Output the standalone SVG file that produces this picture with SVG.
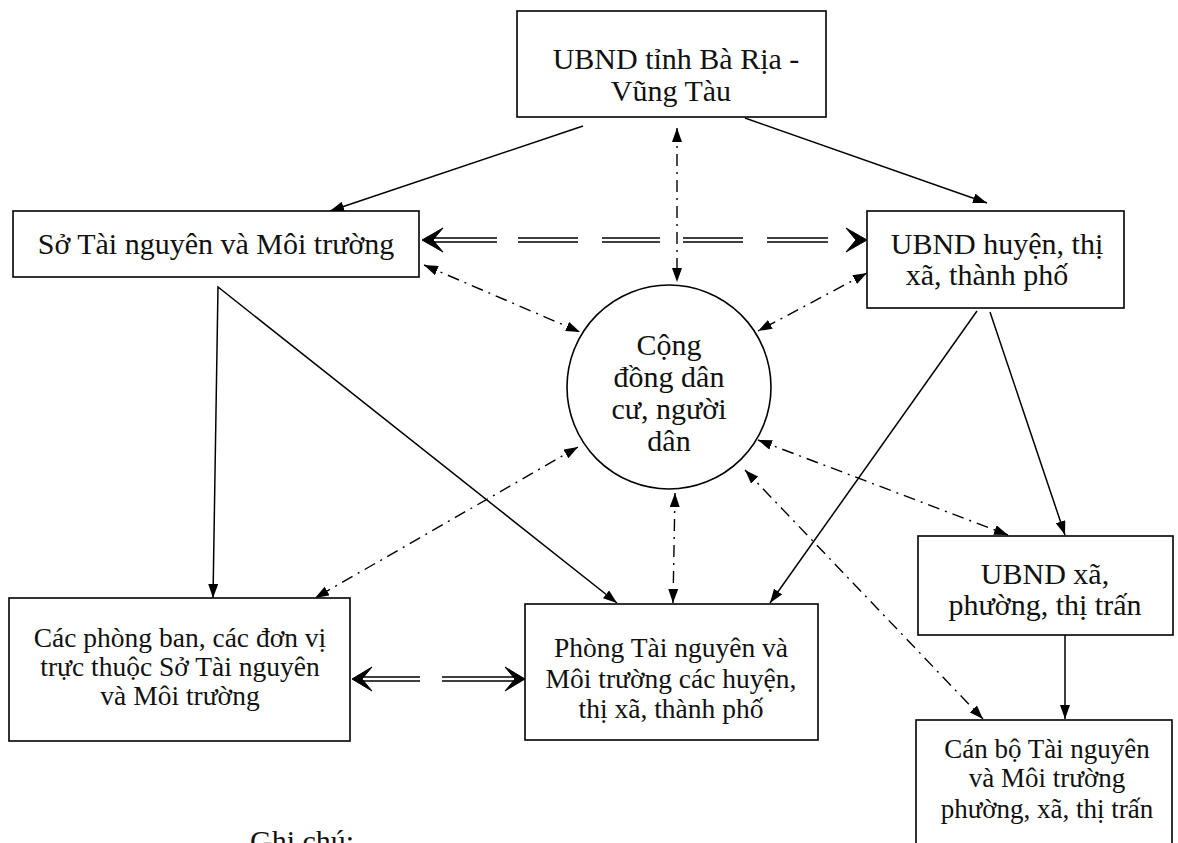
<svg xmlns="http://www.w3.org/2000/svg" width="1178" height="843" viewBox="0 0 1178 843">
<style>
.box{fill:#fff;stroke:#000;stroke-width:1.6}
.t{font-family:"Liberation Serif","Times New Roman",serif;font-size:30px;fill:#111;text-anchor:middle}
.s{fill:none;stroke:#000;stroke-width:1.5}
.dd{fill:none;stroke:#000;stroke-width:1.4;stroke-dasharray:12 6 2 6}
.dl{fill:none;stroke:#000;stroke-width:1.6}
.hd{fill:#000;stroke:#000;stroke-width:1;stroke-linejoin:round}
</style>
<defs>
<marker id="ah" viewBox="0 0 14 10" refX="14" refY="5" markerWidth="14" markerHeight="10" markerUnits="userSpaceOnUse" orient="auto-start-reverse">
<path d="M0,0 L14,5 L0,10 z" fill="#000"/>
</marker>
</defs>
<rect width="1178" height="843" fill="#fff"/>

<g id="connectors">
<path class="s" d="M583,126 L330,211" marker-end="url(#ah)"/>
<path class="s" d="M745,118 L987,203" marker-end="url(#ah)"/>
<path class="dd" d="M677,128 L677,282" marker-start="url(#ah)" marker-end="url(#ah)"/>
<path class="dd" d="M424,265 L580,332" marker-start="url(#ah)" marker-end="url(#ah)"/>
<path class="dd" d="M867,273 L758,331" marker-start="url(#ah)" marker-end="url(#ah)"/>
<path class="s" d="M213,598 L218,287 L617,603" marker-start="url(#ah)" marker-end="url(#ah)"/>
<path class="dd" d="M578,447 L315,598" marker-start="url(#ah)" marker-end="url(#ah)"/>
<path class="dd" d="M675,493 L673,603" marker-start="url(#ah)" marker-end="url(#ah)"/>
<path class="s" d="M977,311 L770,603" marker-end="url(#ah)"/>
<path class="s" d="M990,312 L1065,535" marker-end="url(#ah)"/>
<path class="dd" d="M758,440 L1008,535" marker-start="url(#ah)" marker-end="url(#ah)"/>
<path class="dd" d="M745,470 L983,719" marker-start="url(#ah)" marker-end="url(#ah)"/>
<path class="s" d="M1065,635 L1065,719" marker-end="url(#ah)"/>
<!-- double-line dashed arrow So <-> UBND huyen -->
<path class="dl" d="M432,238 H497 M432,242 H497 M518,238 H578 M518,242 H578 M602,238 H660 M602,242 H660 M683,238 H743 M683,242 H743 M767,238 H828 M767,242 H828"/>
<path class="hd" d="M422,240 L443,228 L433,240 L443,252 Z"/>
<path class="hd" d="M867,240 L846,228 L856,240 L846,252 Z"/>
<!-- double-line arrow Cac phong ban <-> Phong TN -->
<path class="dl" d="M361,677 H420 M361,681 H420 M442,677 H516 M442,681 H516"/>
<path class="hd" d="M352,679 L372,667 L362,679 L372,691 Z"/>
<path class="hd" d="M525,679 L505,667 L515,679 L505,691 Z"/>
</g>

<g id="ubnd-tinh">
<rect class="box" x="517" y="11" width="309" height="106"/>
<text class="t" x="676" y="69">UBND tỉnh Bà Rịa -</text>
<text class="t" x="671" y="101">Vũng Tàu</text>
</g>

<g id="so-tnmt">
<rect class="box" x="13" y="211" width="406" height="66"/>
<text class="t" x="216" y="254">Sở Tài nguyên và Môi trường</text>
</g>

<g id="ubnd-huyen">
<rect class="box" x="867" y="211" width="257" height="97"/>
<text class="t" x="997" y="254">UBND huyện, thị</text>
<text class="t" x="987" y="285">xã, thành phố</text>
</g>

<g id="cong-dong">
<circle class="box" cx="669" cy="387" r="102"/>
<text class="t" x="669" y="355">Cộng</text>
<text class="t" x="669" y="387">đồng dân</text>
<text class="t" x="669" y="419">cư, người</text>
<text class="t" x="669" y="451">dân</text>
</g>

<g id="cac-phong-ban">
<rect class="box" x="9" y="598" width="341" height="143"/>
<text class="t" style="font-size:27.5px" x="180" y="647">Các phòng ban, các đơn vị</text>
<text class="t" style="font-size:27.5px" x="180" y="676">trực thuộc Sở Tài nguyên</text>
<text class="t" style="font-size:27.5px" x="180" y="705">và Môi trường</text>
</g>

<g id="phong-tnmt">
<rect class="box" x="525" y="604" width="293" height="136"/>
<text class="t" style="font-size:27.5px" x="671" y="657">Phòng Tài nguyên và</text>
<text class="t" style="font-size:27.5px" x="671" y="688">Môi trường các huyện,</text>
<text class="t" style="font-size:27.5px" x="671" y="718">thị xã, thành phố</text>
</g>

<g id="ubnd-xa">
<rect class="box" x="918" y="536" width="255" height="99"/>
<text class="t" x="1045" y="584">UBND xã,</text>
<text class="t" x="1045" y="615">phường, thị trấn</text>
</g>

<g id="can-bo">
<rect class="box" x="916" y="720" width="256" height="140"/>
<text class="t" style="font-size:27px" x="1047" y="758">Cán bộ Tài nguyên</text>
<text class="t" style="font-size:27px" x="1047" y="787">và Môi trường</text>
<text class="t" style="font-size:27px" x="1047" y="818">phường, xã, thị trấn</text>
</g>

<g id="ghi-chu">
<text class="t" style="text-anchor:start" x="250" y="851">Ghi chú:</text>
</g>
</svg>
